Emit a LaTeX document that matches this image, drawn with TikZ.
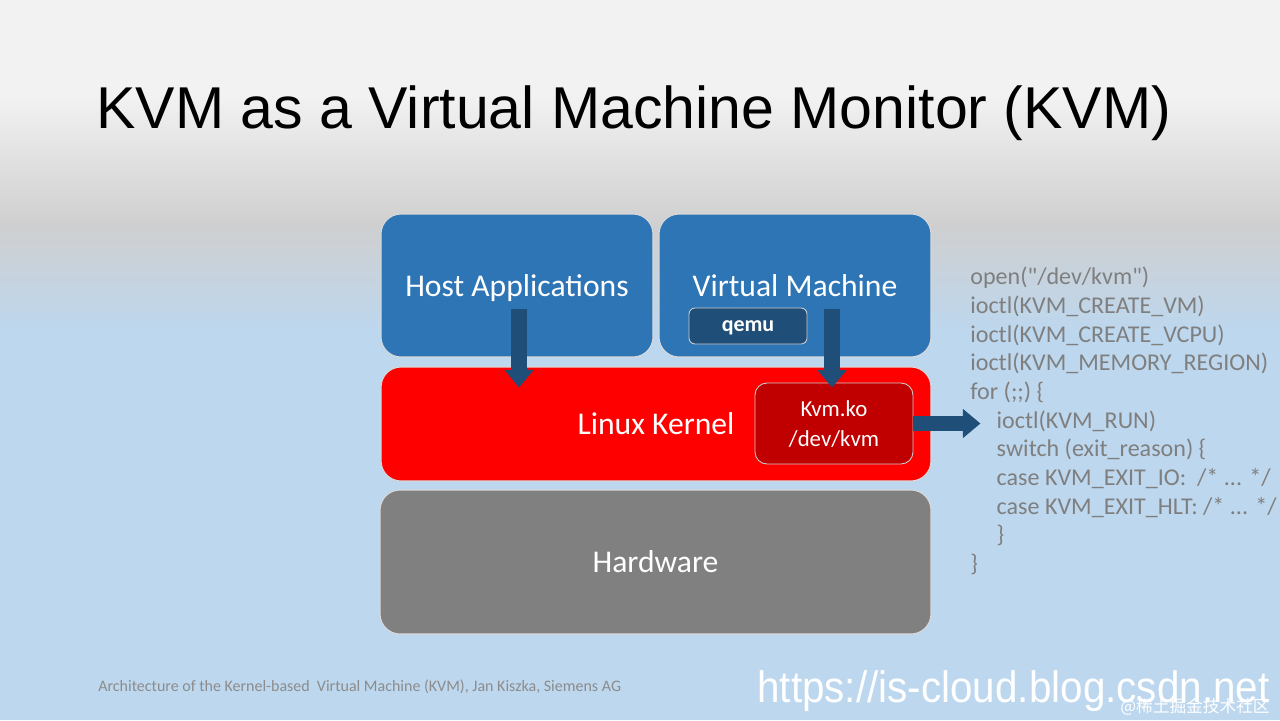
\documentclass[tikz,border=0pt]{standalone}
\usepackage{fontspec}
\setmainfont{Carlito}
\newfontfamily\titlefont{Liberation Sans}
\newfontfamily\codefont[Ligatures=TeXOff]{Carlito}
\newfontfamily\cjk{Noto Sans CJK SC}
\usetikzlibrary{arrows.meta,calc}
\definecolor{bgtop}{HTML}{F2F2F2}
\definecolor{bggrey}{HTML}{CFCFCF}
\definecolor{bgblue}{HTML}{BDD7EE}
\definecolor{boxblue}{HTML}{2E75B6}
\definecolor{kernelred}{HTML}{FF0000}
\definecolor{hwgrey}{HTML}{808080}
\definecolor{darkblue}{HTML}{1F4E79}
\definecolor{kvmred}{HTML}{C00000}
\definecolor{codegrey}{HTML}{7F7F7F}
\definecolor{footgrey}{HTML}{8C8C8C}
\begin{document}
\begin{tikzpicture}[x=0.02cm, y=-0.02cm, >={Triangle[width=16pt,length=10pt]},
	layer/.style={rounded corners=0.4cm, draw=white!85!black, line width=0.6pt, text=white, text height=14pt, text depth=2pt, font=\fontsize{18}{21}\selectfont},
	inner/.style={draw=white!80!black, line width=0.5pt, text=white, align=center}]
		% background
		\useasboundingbox (0,0) rectangle (1280,720);
		\fill[bgtop] (0,0) rectangle (1280,95);
		\shade[top color=bgtop, bottom color=bggrey] (0,95) rectangle (1280,226);
		\shade[top color=bggrey, bottom color=bgblue] (0,225) rectangle (1280,331);
		\fill[bgblue] (0,330) rectangle (1280,720);
		\node[anchor=base west, inner sep=0, font=\titlefont\fontsize{33.6}{40}\selectfont] (title) at (96,128) {KVM as a Virtual Machine Monitor (KVM)};
		% layers
		\node[layer, fill=boxblue, minimum width=5.44cm, minimum height=2.86cm] (host) at (517,285.5) {Host Applications};
		\node[layer, fill=boxblue, minimum width=5.44cm, minimum height=2.86cm] (vm) at (795,285.5) {Virtual Machine};
		\node[layer, fill=kernelred, minimum width=11cm, minimum height=2.28cm] (kernel) at (656,424) {Linux Kernel};
		\node[layer, fill=hwgrey, minimum width=11.02cm, minimum height=2.88cm] (hw) at (655.5,562) {Hardware};
		\node[inner, fill=darkblue, rounded corners=0.12cm, minimum width=2.36cm, minimum height=0.72cm, text height=6pt, text depth=0pt, font=\bfseries\fontsize{12.5}{15}\selectfont] (qemu) at (748,326) {qemu};
		\node[inner, fill=kvmred, rounded corners=0.24cm, minimum width=3.16cm, minimum height=1.62cm, text depth=0pt, font=\fontsize{13}{17.3}\selectfont] (kvm) at (834,423.5) {Kvm.ko\\/dev/kvm};
		% arrows
		\draw[->, line width=9pt, darkblue] ($(host.south |- qemu.north)+(2,1)$) -- ($(host.south |- kernel.north)+(2,21)$);
		\draw[->, line width=9pt, darkblue] ($(kvm.north |- qemu.north)+(-2,1)$) -- ($(kvm.north)+(-2,5)$);
		\draw[->, line width=8pt, darkblue] (kvm.east) -- ++(67,0) coordinate (run);
		% code
		\node[anchor=north west, inner sep=0, align=left, text=codegrey, font=\codefont\fontsize{13.7}{16.3}\selectfont] (code) at (970,267) {open("/dev/kvm")\\
			ioctl(KVM\_CREATE\_VM)\\
			ioctl(KVM\_CREATE\_VCPU)\\
			ioctl(KVM\_MEMORY\_REGION)\\
			for (;;) \{\\
			\hspace*{15pt}ioctl(KVM\_RUN)\\
			\hspace*{15pt}switch (exit\_reason) \{\\
			\hspace*{15pt}case KVM\_EXIT\_IO:\ \ /* ... */\\
			\hspace*{15pt}case KVM\_EXIT\_HLT: /* ... */\\
			\hspace*{15pt}\}\\
			\}};
		% footer
		\node[anchor=base west, inner sep=0, text=footgrey, font=\fontsize{9.1}{11}\selectfont] (cite) at (98,691) {Architecture of the Kernel-based\ \ Virtual Machine (KVM), Jan Kiszka, Siemens AG};
		\node[anchor=base west, inner sep=0, text=white, xscale=0.92, font=\titlefont\fontsize{25}{30}\selectfont] (url) at (757,702) {https://is-cloud.blog.csdn.net};
		\node[anchor=base east, inner sep=0, text=white, font=\cjk\fontsize{9.5}{11}\selectfont] (mark) at (1270,712) {@稀土掘金技术社区};
\end{tikzpicture}
\end{document}
